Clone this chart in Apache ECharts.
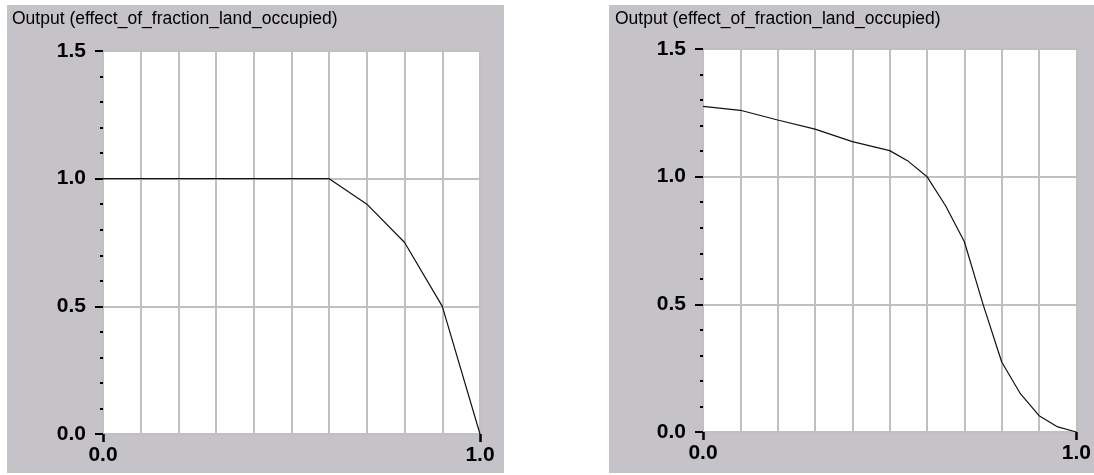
<!DOCTYPE html>
<html>
<head>
<meta charset="utf-8">
<style>
  html, body { margin: 0; padding: 0; background: #fff; }
  #chart { width: 1094px; height: 475px; }
</style>
<script src="https://cdn.jsdelivr.net/npm/echarts@6/dist/echarts.min.js"></script>
</head>
<body>
<div id="chart"></div>
<script>
  // values
  const titleText = 'Output (effect_of_fraction_land_occupied)'
  const xLeft = [0, 0.1, 0.2, 0.3, 0.4, 0.5, 0.6, 0.7, 0.8, 0.9, 1.0]
  const yLeft = [1, 1, 1, 1, 1, 1, 1, 0.9, 0.75, 0.5, 0]
  const xRight = [0, 0.1, 0.2, 0.3, 0.4, 0.5, 0.55, 0.6, 0.65, 0.7, 0.75, 0.8, 0.85, 0.9, 0.95, 1.0]
  const yRight = [1.275, 1.26, 1.222, 1.186, 1.137, 1.102, 1.06, 1.0, 0.885, 0.745, 0.5, 0.274, 0.15, 0.064, 0.02, 0]
  const xTicks = [0, 1]
  const yTicks = [0, 0.5, 1.0, 1.5]

  const panelGray = '#c5c3c7'
  const gridGray = '#c0c0c0'
  const labelFont = { color: '#000', fontSize: 21, fontWeight: 'bold', fontFamily: 'Liberation Sans' }

  const toPairs = (xs, ys) => xs.map((x, i) => [x, ys[i]])

  /** x axis: labels only at the ends, grey lines every 0.1 */
  const makeX = (gridIndex) => ({
    type: 'value',
    gridIndex,
    min: xTicks[0],
    max: xTicks[xTicks.length - 1],
    interval: 1,
    axisLine: { show: true, lineStyle: { color: gridGray, width: 2 } },
    axisTick: { show: true, length: 8, lineStyle: { color: '#000', width: 2.5 } },
    axisLabel: { ...labelFont, margin: 11, formatter: (v) => v.toFixed(1) },
    splitLine: { show: true, lineStyle: { color: gridGray, width: 2 } },
    minorTick: { show: false, splitNumber: 10 },
    minorSplitLine: { show: true, lineStyle: { color: gridGray, width: 2 } }
  })

  /** y axis: 0.5 steps, small minor ticks every 0.1 */
  const makeY = (gridIndex) => ({
    type: 'value',
    gridIndex,
    min: yTicks[0],
    max: yTicks[yTicks.length - 1],
    interval: 0.5,
    axisLine: { show: true, lineStyle: { color: gridGray, width: 2 } },
    axisTick: { show: true, length: 8, lineStyle: { color: '#000', width: 2 } },
    minorTick: { show: true, splitNumber: 5, length: 3, lineStyle: { color: '#000', width: 2 } },
    axisLabel: { ...labelFont, margin: 17, formatter: (v) => v.toFixed(1) },
    splitLine: { show: true, lineStyle: { color: gridGray, width: 2 } }
  })

  const makeLine = (idx, data) => ({
    type: 'line',
    xAxisIndex: idx,
    yAxisIndex: idx,
    data,
    symbol: 'none',
    smooth: false,
    lineStyle: { color: '#111', width: 1.2 },
    silent: true
  })

  const chartDom = echarts.init(document.getElementById('chart'), null, { renderer: 'canvas' })
  chartDom.setOption({
    animation: false,
    graphic: [
      { type: 'rect', z: -10, shape: { x: 7, y: 5, width: 497, height: 468 }, style: { fill: panelGray } },
      { type: 'rect', z: -10, shape: { x: 609, y: 5, width: 485, height: 468 }, style: { fill: panelGray } },
      { type: 'text', x: 12, y: 10, style: { text: titleText, fill: '#000', font: '17.5px "Liberation Sans"' } },
      { type: 'text', x: 615, y: 10, style: { text: titleText, fill: '#000', font: '17.5px "Liberation Sans"' } }
    ],
    grid: [
      { left: 103, top: 51, width: 377, height: 383, show: true, backgroundColor: '#fff', borderWidth: 0 },
      { left: 703, top: 49, width: 378, height: 383, show: true, backgroundColor: '#fff', borderWidth: 0 }
    ],
    xAxis: [makeX(0), makeX(1)],
    yAxis: [makeY(0), makeY(1)],
    series: [makeLine(0, toPairs(xLeft, yLeft)), makeLine(1, toPairs(xRight, yRight))]
  })
</script>
</body>
</html>
